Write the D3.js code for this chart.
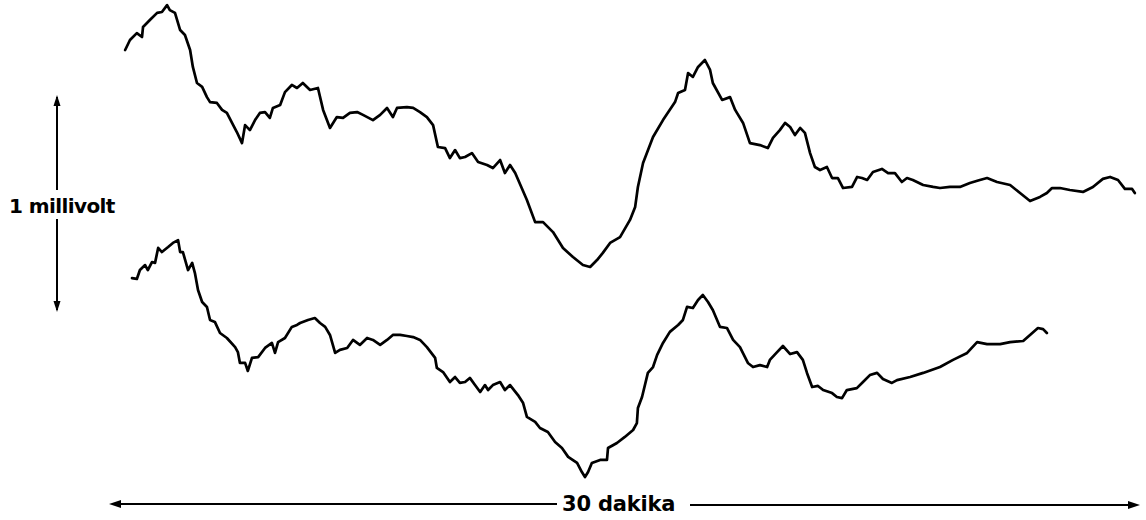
<!DOCTYPE html>
<html><head><meta charset="utf-8">
<script src="https://cdn.jsdelivr.net/npm/d3@7"></script>
<style>html,body{margin:0;padding:0;background:#fff;}svg{display:block;}</style>
</head><body>
<script>
const timeLabel = "30 dakika";
const voltLabel = "1 millivolt";
const totalMinutes = 30;

const trace1Time = [0.47,0.61,0.81,0.96,0.99,1.19,1.40,1.54,1.69,1.77,1.92,2.07,2.21,2.36,2.44,2.56,2.71,2.85,2.94,3.14,3.29,3.43,3.58,3.72,3.87,3.96,4.10,4.25,4.39,4.54,4.68,4.77,4.98,5.12,5.32,5.47,5.64,5.85,6.08,6.23,6.43,6.63,6.81,7.01,7.22,7.39,7.68,7.89,8.09,8.26,8.38,8.67,8.85,9.05,9.25,9.43,9.57,9.78,9.92,10.07,10.21,10.36,10.56,10.74,11.00,11.17,11.38,11.52,11.67,11.82,12.16,12.40,12.63,12.92,13.21,13.50,13.79,14.00,14.20,14.37,14.58,14.87,15.16,15.31,15.39,15.54,15.83,16.12,16.47,16.56,16.76,16.85,16.99,17.14,17.34,17.49,17.57,17.84,18.07,18.22,18.45,18.65,18.94,19.17,19.32,19.52,19.67,19.82,19.96,20.11,20.25,20.40,20.54,20.69,20.89,21.04,21.21,21.36,21.62,21.77,21.91,22.06,22.23,22.49,22.67,22.87,23.07,23.22,23.39,23.69,23.98,24.18,24.47,24.76,25.05,25.34,25.55,25.84,26.22,26.51,26.80,27.09,27.29,27.44,27.67,27.96,28.34,28.63,28.92,29.13,29.36,29.56,29.77,29.85];
const trace1Volt = [1.152,1.198,1.230,1.212,1.258,1.290,1.323,1.327,1.359,1.336,1.323,1.244,1.221,1.152,1.074,1.000,0.982,0.935,0.912,0.908,0.876,0.862,0.816,0.774,0.723,0.806,0.783,0.829,0.862,0.866,0.839,0.885,0.899,0.958,0.991,0.977,1.000,0.968,0.977,0.876,0.793,0.843,0.839,0.862,0.866,0.853,0.829,0.853,0.885,0.843,0.885,0.889,0.885,0.866,0.843,0.806,0.705,0.700,0.654,0.691,0.654,0.659,0.677,0.636,0.622,0.608,0.645,0.585,0.622,0.585,0.461,0.359,0.359,0.313,0.240,0.198,0.161,0.152,0.184,0.217,0.263,0.290,0.369,0.429,0.521,0.631,0.751,0.829,0.912,0.954,0.968,1.046,1.028,1.074,1.106,1.060,1.000,0.922,0.935,0.876,0.816,0.723,0.714,0.700,0.747,0.783,0.816,0.797,0.760,0.793,0.770,0.677,0.613,0.599,0.613,0.562,0.562,0.516,0.521,0.567,0.562,0.553,0.590,0.604,0.585,0.585,0.544,0.562,0.553,0.530,0.521,0.516,0.521,0.521,0.539,0.553,0.562,0.544,0.530,0.493,0.456,0.475,0.493,0.516,0.516,0.507,0.498,0.521,0.558,0.567,0.553,0.512,0.512,0.493];

const trace2Time = [0.67,0.81,0.90,1.05,1.13,1.25,1.34,1.43,1.54,1.72,1.86,2.01,2.07,2.15,2.30,2.42,2.50,2.59,2.71,2.85,2.94,3.08,3.23,3.43,3.67,3.75,3.81,3.96,4.04,4.16,4.34,4.54,4.74,4.83,4.92,5.12,5.32,5.47,5.56,5.79,5.99,6.14,6.29,6.43,6.58,6.72,6.93,7.10,7.30,7.51,7.68,7.89,8.09,8.26,8.47,8.67,8.85,9.05,9.25,9.49,9.54,9.72,9.92,10.07,10.21,10.36,10.50,10.65,10.80,10.94,11.03,11.17,11.38,11.52,11.67,11.90,12.05,12.16,12.40,12.54,12.77,12.98,13.18,13.36,13.62,13.76,13.85,13.94,14.05,14.29,14.49,14.52,14.78,15.01,15.25,15.36,15.39,15.51,15.68,15.83,15.95,16.12,16.32,16.56,16.70,16.82,16.99,17.14,17.28,17.43,17.57,17.78,17.98,18.16,18.36,18.59,18.74,18.94,19.15,19.23,19.44,19.61,19.82,20.02,20.19,20.31,20.46,20.63,20.78,21.04,21.18,21.33,21.47,21.76,21.94,22.14,22.35,22.52,22.78,22.93,23.31,23.69,24.18,24.56,24.97,25.26,25.55,25.93,26.22,26.60,26.80,27.03,27.18,27.29];
const trace2Volt = [0.101,0.097,0.138,0.161,0.138,0.175,0.171,0.240,0.221,0.244,0.263,0.276,0.221,0.221,0.138,0.171,0.124,0.046,-0.009,-0.032,-0.092,-0.101,-0.152,-0.175,-0.217,-0.240,-0.290,-0.290,-0.327,-0.267,-0.263,-0.221,-0.198,-0.244,-0.194,-0.175,-0.124,-0.115,-0.106,-0.092,-0.083,-0.106,-0.124,-0.161,-0.244,-0.230,-0.221,-0.184,-0.207,-0.175,-0.184,-0.207,-0.184,-0.161,-0.161,-0.166,-0.171,-0.184,-0.217,-0.267,-0.313,-0.332,-0.378,-0.355,-0.382,-0.378,-0.359,-0.392,-0.424,-0.392,-0.415,-0.392,-0.378,-0.415,-0.392,-0.438,-0.475,-0.539,-0.562,-0.590,-0.608,-0.654,-0.682,-0.723,-0.751,-0.793,-0.816,-0.793,-0.751,-0.737,-0.737,-0.682,-0.659,-0.631,-0.599,-0.567,-0.498,-0.447,-0.336,-0.309,-0.253,-0.198,-0.147,-0.115,-0.092,-0.032,-0.037,0.000,0.023,-0.009,-0.046,-0.124,-0.129,-0.184,-0.217,-0.290,-0.309,-0.300,-0.309,-0.276,-0.240,-0.212,-0.249,-0.240,-0.276,-0.336,-0.401,-0.396,-0.415,-0.429,-0.447,-0.452,-0.415,-0.406,-0.378,-0.346,-0.336,-0.364,-0.382,-0.369,-0.355,-0.336,-0.309,-0.276,-0.244,-0.194,-0.203,-0.203,-0.194,-0.189,-0.161,-0.129,-0.134,-0.152];

// calibration bar: spans exactly 1 mV
const calibTop = 0.945, calibBottom = -0.055;

const W = 1146, H = 520;
const svg = d3.select("body").append("svg").attr("width", W).attr("height", H);

const x = d3.scaleLinear().domain([0, totalMinutes]).range([109, 1140]);
const y = d3.scaleLinear().domain([0, 1]).range([300, 83]);

const line = d3.line().x(d => x(d[0])).y(d => y(d[1])).curve(d3.curveLinear);
const traces = [d3.zip(trace1Time, trace1Volt), d3.zip(trace2Time, trace2Volt)];

svg.selectAll("path.trace").data(traces).join("path")
  .attr("class", "trace")
  .attr("d", line)
  .attr("fill", "none")
  .attr("stroke", "#000")
  .attr("stroke-width", 2.7)
  .attr("stroke-linejoin", "round")
  .attr("stroke-linecap", "round");

// vertical calibration arrow (1 mV)
const ax = 57;
const yTop = y(calibTop), yBot = y(calibBottom);
const g = svg.append("g").attr("stroke", "#000").attr("fill", "#000");
g.append("line").attr("x1", ax).attr("x2", ax).attr("y1", yTop + 2).attr("y2", 190).attr("stroke-width", 2);
g.append("line").attr("x1", ax).attr("x2", ax).attr("y1", 219).attr("y2", yBot - 2).attr("stroke-width", 2);
g.append("path").attr("stroke", "none").attr("d", `M${ax},${yTop} L${ax-3.5},${yTop+11} L${ax+3.5},${yTop+11} Z`);
g.append("path").attr("stroke", "none").attr("d", `M${ax},${yBot} L${ax-3.5},${yBot-11} L${ax+3.5},${yBot-11} Z`);

svg.append("text").attr("x", 9).attr("y", 213)
  .attr("font-family", "DejaVu Sans, sans-serif").attr("font-weight", "bold")
  .attr("font-size", 20).attr("letter-spacing", -0.6)
  .text(voltLabel);

// horizontal time arrow (30 min)
const ay = 504;
const xl = x(0), xr = x(totalMinutes);
g.append("line").attr("x1", xl + 3).attr("x2", 557).attr("y1", ay).attr("y2", ay).attr("stroke-width", 2);
g.append("line").attr("x1", 690).attr("x2", xr - 3).attr("y1", ay + 1).attr("y2", ay + 1).attr("stroke-width", 2);
g.append("path").attr("stroke", "none").attr("d", `M${xl},${ay} L${xl+12},${ay-4} L${xl+12},${ay+4} Z`);
g.append("path").attr("stroke", "none").attr("d", `M${xr},${ay+1} L${xr-12},${ay-3} L${xr-12},${ay+5} Z`);

svg.append("text").attr("x", 562).attr("y", 511)
  .attr("font-family", "DejaVu Sans, sans-serif").attr("font-weight", "bold")
  .attr("font-size", 21).attr("letter-spacing", -0.2)
  .text(timeLabel);
</script>
</body></html>
